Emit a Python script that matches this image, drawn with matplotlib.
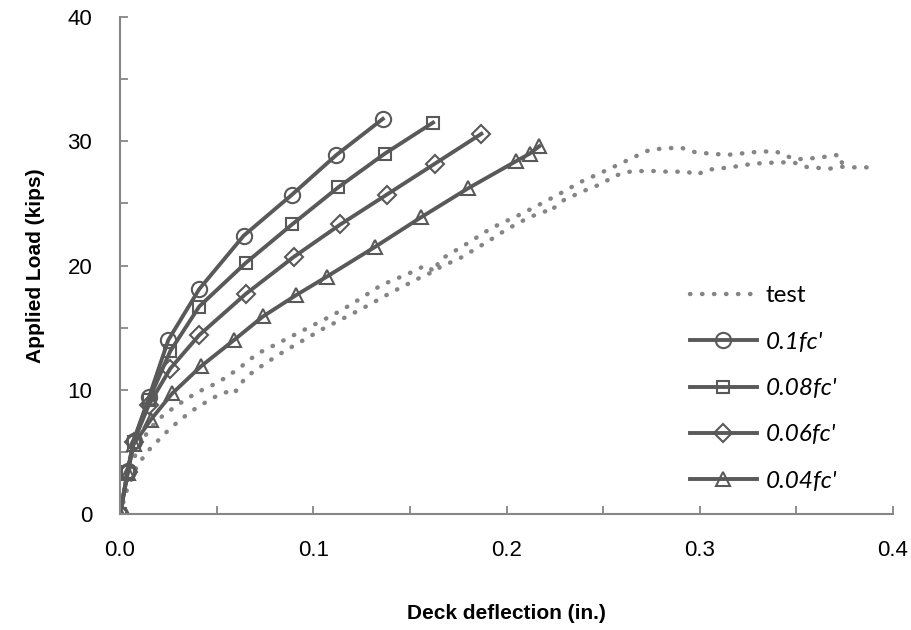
import numpy as np
import matplotlib
matplotlib.use("Agg")
import matplotlib.pyplot as plt
from matplotlib.ticker import MultipleLocator

# FE results (deflection in., load kips)
x_010 = [0, 0.004, 0.007, 0.015, 0.025, 0.041, 0.064, 0.089, 0.112, 0.136]
y_010 = [0, 3.5, 5.9, 9.4, 14.0, 18.1, 22.4, 25.7, 28.9, 31.8]

x_008 = [0, 0.004, 0.007, 0.015, 0.026, 0.041, 0.065, 0.089, 0.113, 0.137, 0.162]
y_008 = [0, 3.4, 5.8, 9.2, 13.1, 16.7, 20.2, 23.3, 26.3, 29.0, 31.5]

x_006 = [0, 0.004, 0.007, 0.015, 0.026, 0.041, 0.065, 0.090, 0.114, 0.138, 0.163, 0.187]
y_006 = [0, 3.4, 5.8, 8.8, 11.7, 14.4, 17.7, 20.7, 23.3, 25.7, 28.2, 30.6]

x_004 = [0, 0.004, 0.007, 0.016, 0.027, 0.042, 0.059, 0.074, 0.091, 0.107, 0.132,
         0.156, 0.180, 0.205, 0.212, 0.217]
y_004 = [0, 3.3, 5.6, 7.6, 9.7, 11.9, 14.0, 15.9, 17.6, 19.1, 21.5,
         23.9, 26.2, 28.4, 29.0, 29.6]

# test data, two gauge strands
xa = [0, 0.002, 0.005, 0.009, 0.015, 0.022, 0.030, 0.040, 0.047, 0.055, 0.063, 0.071,
      0.080, 0.090, 0.100, 0.110, 0.120, 0.135, 0.150, 0.158, 0.163, 0.165, 0.180, 0.192,
      0.207, 0.217, 0.229, 0.238, 0.248, 0.259, 0.267, 0.274, 0.280, 0.290, 0.298,
      0.314, 0.330, 0.339, 0.346, 0.350, 0.356, 0.363, 0.370, 0.3735, 0.3735, 0.375]
ya = [0, 1.5, 3.5, 5.2, 6.8, 7.9, 8.8, 9.8, 10.3, 11.0, 11.9, 12.9,
      13.6, 14.4, 15.2, 16.0, 16.9, 18.4, 19.4, 20.0, 19.5, 20.4, 21.8, 23.0,
      24.1, 24.9, 25.9, 26.7, 27.4, 28.2, 28.8, 29.3, 29.4, 29.5, 29.1,
      28.9, 29.15, 29.2, 28.75, 28.55, 28.6, 28.7, 28.9, 28.8, 28.3, 27.95]

xb = [0, 0.0035, 0.0086, 0.014, 0.019, 0.026, 0.033, 0.040, 0.050, 0.055, 0.057, 0.060,
      0.065, 0.075, 0.085, 0.095, 0.105, 0.115, 0.125, 0.140, 0.155, 0.1648, 0.1656,
      0.175, 0.190, 0.200, 0.212, 0.2226, 0.2226, 0.230, 0.240, 0.248, 0.2516, 0.256,
      0.2614, 0.2666, 0.2778, 0.283, 0.2933, 0.2985, 0.3037, 0.3157, 0.328, 0.3407,
      0.3485, 0.352, 0.356, 0.3675, 0.3727, 0.3796, 0.3873]
yb = [0, 1.9, 3.8, 5.0, 5.8, 6.9, 7.8, 8.6, 9.5, 9.8, 10.1, 9.9,
      11.0, 12.1, 13.1, 14.0, 14.9, 15.7, 16.5, 17.8, 19.0, 19.7, 19.9,
      20.5, 21.9, 22.9, 23.9, 24.5, 24.4, 25.3, 26.0, 26.5, 26.8, 27.2,
      27.5, 27.6, 27.6, 27.55, 27.55, 27.3, 27.7, 27.9, 28.2, 28.3,
      28.3, 28.1, 27.9, 27.8, 27.95, 27.9, 27.9]

fe_labels = ["0.1fc'", "0.08fc'", "0.06fc'", "0.04fc'"]
fe_markers = ['o', 's', 'D', '^']

line_col = '#595959'
test_col = '#858585'
axis_col = '#868686'

plt.rcParams['font.family'] = ['Liberation Sans', 'DejaVu Sans']

fig = plt.figure(figsize=(9.12, 6.3), dpi=100)
ax = fig.add_axes([120 / 912, 116 / 630, 773 / 912, 497 / 630])

# test curve: join the two strands with a NaN break so it is one line
tx = xa + [np.nan] + xb
ty = ya + [np.nan] + yb
ax.plot(tx, ty, color=test_col, linestyle=(0, (0.1, 2.6)), linewidth=3.2,
        dash_capstyle='round', label='test')

fe_series = [(x_010, y_010), (x_008, y_008), (x_006, y_006), (x_004, y_004)]
msizes = [11, 9, 9, 10.5]
for (xs, ys), lab, mk, ms in zip(fe_series, fe_labels, fe_markers, msizes):
    ax.plot(xs, ys, color=line_col, linewidth=2.8, marker=mk, markersize=ms,
            markerfacecolor='none', markeredgecolor=line_col, markeredgewidth=1.5,
            label=lab)

ax.set_ylim(0, 40)
ax.xaxis.set_minor_locator(MultipleLocator(0.05))
ax.yaxis.set_major_locator(MultipleLocator(10))
ax.yaxis.set_minor_locator(MultipleLocator(5))
ax.set_xticks(np.arange(0, 0.41, 0.1))
ax.set_xticklabels(["0.0", "0.1", "0.2", "0.3", "0.4"])
ax.set_xlim(0, 0.4)

for side in ['top', 'right']:
    ax.spines[side].set_visible(False)
for side in ['left', 'bottom']:
    ax.spines[side].set_color(axis_col)
    ax.spines[side].set_linewidth(1.5)

ax.tick_params(which='both', direction='in', color=axis_col, width=1.3, length=6,
               labelsize=16, labelcolor='black')
ax.tick_params(axis='x', pad=19)
ax.tick_params(axis='y', pad=20)

ax.set_xlabel("Deck deflection (in.)", fontsize=15, fontweight='bold', labelpad=31)
ax.set_ylabel("Applied Load (kips)", fontsize=15, fontweight='bold', labelpad=16)

leg = ax.legend(loc='lower left', bbox_to_anchor=(0.737, 0.045), frameon=False,
                borderpad=0, borderaxespad=0,
                handlelength=2.75, labelspacing=1.04, handletextpad=0.37,
                prop={'family': ['Lato', 'DejaVu Sans'], 'size': 17.5})
for i, t in enumerate(leg.get_texts()):
    if i > 0:
        t.set_fontstyle('italic')

fig.savefig("out.png", dpi=100)
